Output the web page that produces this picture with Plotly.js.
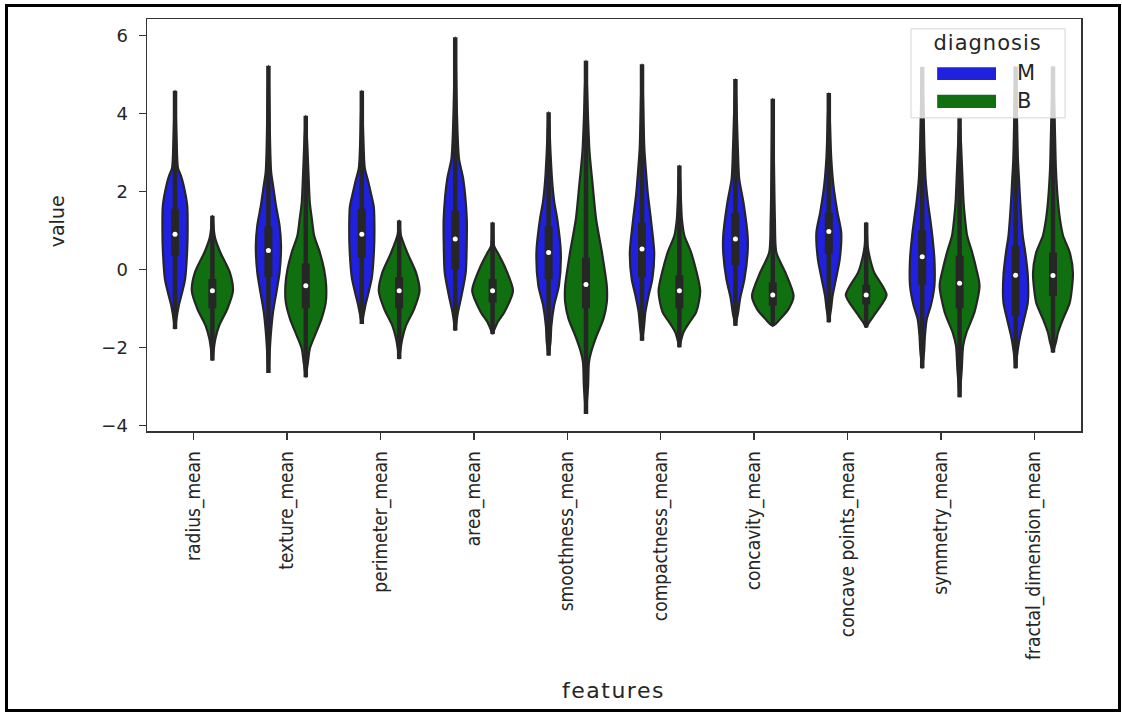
<!DOCTYPE html>
<html>
<head>
<meta charset="utf-8">
<script src="https://cdn.plot.ly/plotly-3.0.1.min.js"></script>
<style>
  html, body { margin: 0; padding: 0; background: #fff; }
  #wrap { position: relative; width: 1122px; height: 712px; }
  #chart { position: absolute; left: 0; top: 0; width: 1122px; height: 712px; }
  #frame { position: absolute; left: 5px; top: 4px; width: 1110px; height: 702px;
           border: 3px solid #000; pointer-events: none; }
  .annotation[data-index="0"] text { letter-spacing: 1px; }
  .annotation[data-index="4"] text { letter-spacing: 1.5px; }
</style>
</head>
<body>
<div id="wrap"><div id="chart"></div><div id="frame"></div></div>
<script>
// ---------------- data ----------------
const features = ["radius_mean", "texture_mean", "perimeter_mean", "area_mean", "smoothness_mean",
                  "compactness_mean", "concavity_mean", "concave points_mean", "symmetry_mean",
                  "fractal_dimension_mean"];
const groups = ["M", "B"];

// inner box statistics (standardised values)
const M_median = [0.90, 0.48, 0.90, 0.78, 0.43, 0.52, 0.78, 0.97, 0.32, -0.15];
const M_q1     = [0.35, -0.20, 0.30, 0.00, -0.25, -0.20, 0.10, 0.40, -0.40, -1.20];
const M_q3     = [1.55, 1.10, 1.55, 1.50, 1.10, 1.20, 1.45, 1.45, 1.00, 0.60];
const B_median = [-0.55, -0.42, -0.55, -0.55, -0.39, -0.55, -0.66, -0.66, -0.36, -0.16];
const B_q1     = [-1.00, -1.00, -1.00, -0.85, -1.00, -1.00, -0.93, -0.90, -1.00, -0.68];
const B_q3     = [-0.25, 0.15, -0.20, -0.25, 0.30, -0.15, -0.33, -0.40, 0.35, 0.43];

// kernel-density profiles: value levels (top to bottom) and relative density at each level
const M_levels = [
  [4.58, 3.4, 2.6, 2.4, 2.15, 1.63, 1.0, 0.5, -0.25, -0.59, -0.93, -1.2, -1.53],
  [5.22, 3.0, 2.49, 2.15, 1.63, 1.12, 0.6, -0.08, -0.59, -1.1, -1.7, -2.13, -2.66],
  [4.58, 3.4, 2.6, 2.3, 2.0, 1.6, 1.0, 0.5, -0.2, -0.55, -0.9, -1.15, -1.40],
  [5.95, 4.5, 3.5, 2.83, 2.32, 1.29, 0.78, -0.08, -0.68, -1.1, -1.57],
  [4.03, 3.0, 2.32, 1.72, 1.29, 0.43, -0.42, -0.93, -1.45, -1.87, -2.21],
  [5.26, 3.1, 2.57, 1.97, 1.29, 0.43, -0.25, -0.68, -1.1, -1.5, -1.83],
  [4.88, 3.2, 2.32, 1.72, 0.86, 0.43, -0.25, -0.76, -1.1, -1.45],
  [4.52, 2.9, 2.15, 1.46, 0.95, 0.26, -0.25, -0.68, -1.0, -1.36],
  [5.19, 3.0, 2.32, 1.72, 1.29, 0.86, 0.26, -0.42, -0.93, -1.27, -1.7, -2.1, -2.54],
  [5.2, 2.83, 2.32, 1.72, 0.86, 0.43, -0.16, -0.85, -1.27, -1.7, -2.04, -2.54]
];
const M_density = [
  [0, .07, .14, .28, .41, .58, .60, .58, .48, .34, .18, .09, 0],
  [0, .09, .13, .22, .36, .53, .60, .53, .38, .22, .11, .06, 0],
  [0, .07, .14, .28, .41, .57, .60, .58, .48, .34, .18, .09, 0],
  [0, .06, .11, .18, .38, .55, .55, .50, .30, .13, 0],
  [0, .09, .16, .27, .41, .58, .49, .26, .13, .09, 0],
  [0, .11, .18, .27, .42, .58, .49, .31, .16, .09, 0],
  [0, .11, .18, .38, .58, .58, .43, .22, .13, 0],
  [0, .11, .22, .41, .59, .52, .34, .18, .11, 0],
  [0, .11, .16, .27, .38, .48, .58, .58, .41, .22, .13, .09, 0],
  [0, .11, .16, .22, .34, .46, .58, .58, .41, .22, .11, 0]
];
const B_levels = [
  [1.37, 1.0, 0.78, 0.43, -0.08, -0.55, -1.02, -1.45, -1.79, -2.34],
  [3.94, 2.57, 1.72, 1.29, 0.86, 0.43, 0.0, -0.42, -0.85, -1.27, -1.7, -2.04, -2.39, -2.77],
  [1.25, 0.9, 0.43, -0.08, -0.55, -1.02, -1.45, -1.8, -2.30],
  [1.2, 0.6, 0.43, 0.09, -0.55, -1.1, -1.36, -1.66],
  [5.35, 3.85, 3.0, 2.15, 1.29, 0.43, -0.42, -0.85, -1.27, -1.7, -2.13, -2.39, -3.0, -3.71],
  [2.66, 1.29, 0.86, 0.43, -0.55, -1.1, -1.36, -1.62, -2.0],
  [4.37, 1.29, 0.43, -0.08, -0.68, -1.02, -1.27, -1.40, -1.45],
  [1.2, 0.6, 0.26, -0.08, -0.66, -1.1, -1.36, -1.49],
  [3.9, 2.57, 1.72, 1.29, 0.86, 0.43, 0.0, -0.42, -1.1, -1.62, -1.96, -2.6, -3.28],
  [5.2, 3.4, 2.57, 1.72, 1.29, 0.86, 0.43, -0.1, -0.85, -1.27, -1.62, -1.87, -2.13]
];
const B_density = [
  [0, .07, .14, .38, .83, .98, .71, .32, .14, 0],
  [0, .12, .19, .29, .40, .67, .87, .97, .95, .75, .43, .19, .10, 0],
  [0, .07, .38, .80, .97, .71, .32, .14, 0],
  [0, .07, .24, .56, .97, .56, .24, 0],
  [0, .10, .17, .32, .48, .76, .99, .99, .83, .51, .24, .14, .10, 0],
  [0, .12, .24, .56, .99, .80, .48, .19, 0],
  [0, .10, .17, .60, .99, .75, .36, .14, 0],
  [0, .07, .19, .38, .97, .48, .14, 0],
  [0, .12, .19, .26, .36, .60, .80, .95, .71, .33, .17, .10, 0],
  [0, .10, .14, .24, .33, .48, .80, .95, .80, .48, .24, .14, 0]
];

// ---------------- styling ----------------
const groupColors = ["rgb(32,32,223)", "rgb(16,112,16)"];
const edge = "#262626";
const DODGE = 0.2;          // hue offset inside a category
const WIDTH_SCALE = 0.225;  // half-width (category units) for density 1

const stats = {
  M: {med: M_median, q1: M_q1, q3: M_q3, lev: M_levels, den: M_density},
  B: {med: B_median, q1: B_q1, q3: B_q3, lev: B_levels, den: B_density}
};

const traces = [];
const inner = [];
groups.forEach((g, gi) => {
  const s = stats[g];
  features.forEach((f, i) => {
    const c = i + (gi === 0 ? -DODGE : DODGE);
    const lev = s.lev[i], den = s.den[i];
    const xs = [], ys = [];
    for (let k = 0; k < lev.length; k++) { xs.push(c + den[k] * WIDTH_SCALE); ys.push(lev[k]); }
    for (let k = lev.length - 1; k >= 0; k--) { xs.push(c - den[k] * WIDTH_SCALE); ys.push(lev[k]); }
    traces.push({
      type: "scatter", mode: "lines", x: xs, y: ys, fill: "toself",
      fillcolor: groupColors[gi],
      line: {color: edge, width: 2.2, shape: "spline", smoothing: 0.7},
      hoverinfo: "skip", showlegend: false
    });
    inner.push({
      type: "scatter", mode: "lines", x: [c, c], y: [lev[lev.length - 1], lev[0]],
      line: {color: edge, width: 4.5}, hoverinfo: "skip", showlegend: false
    });
    inner.push({
      type: "scatter", mode: "lines", x: [c, c], y: [s.q1[i], s.q3[i]],
      line: {color: edge, width: 8}, hoverinfo: "skip", showlegend: false
    });
    inner.push({
      type: "scatter", mode: "markers", x: [c], y: [s.med[i]],
      marker: {color: "white", size: 5, line: {width: 0}},
      hoverinfo: "skip", showlegend: false
    });
  });
});

// ---------------- manual legend ----------------
const legendShapes = [
  {type: "rect", xref: "paper", yref: "paper", x0: 0.818, x1: 0.983, y0: 0.760, y1: 0.976,
   fillcolor: "rgba(255,255,255,0.8)", line: {color: "#d4d4d4", width: 1}, layer: "above"},
  {type: "rect", xref: "paper", yref: "paper", x0: 0.846, x1: 0.909, y0: 0.852, y1: 0.883,
   fillcolor: groupColors[0], line: {width: 0}, layer: "above"},
  {type: "rect", xref: "paper", yref: "paper", x0: 0.846, x1: 0.909, y0: 0.784, y1: 0.816,
   fillcolor: groupColors[1], line: {width: 0}, layer: "above"}
];
const txtFont = {family: "DejaVu Sans", color: "#262626"};
const annotations = [
  {xref: "paper", yref: "paper", x: 0.900, y: 0.942, text: "diagnosis", showarrow: false,
   xanchor: "center", yanchor: "middle", font: Object.assign({size: 21}, txtFont)},
  {xref: "paper", yref: "paper", x: 0.929, y: 0.868, text: groups[0], showarrow: false,
   xanchor: "left", yanchor: "middle", font: Object.assign({size: 21}, txtFont)},
  {xref: "paper", yref: "paper", x: 0.929, y: 0.800, text: groups[1], showarrow: false,
   xanchor: "left", yanchor: "middle", font: Object.assign({size: 21}, txtFont)},
  {xref: "paper", yref: "paper", x: -0.097, y: 0.51, text: "value", showarrow: false,
   textangle: -90, xanchor: "center", yanchor: "middle", font: Object.assign({size: 19}, txtFont)},
  {xref: "paper", yref: "paper", x: 0.499, y: -0.629, text: "features", showarrow: false,
   xanchor: "center", yanchor: "middle", font: Object.assign({size: 22}, txtFont)}
];

const layout = {
  width: 1122, height: 712,
  margin: {l: 147, r: 41, t: 19, b: 281},
  paper_bgcolor: "#fff", plot_bgcolor: "#fff",
  showlegend: false,
  xaxis: {
    range: [-0.5, 9.5], tickmode: "array",
    tickvals: features.map((_, i) => i), ticktext: features,
    tickangle: -90, ticks: "outside", ticklen: 7, tickwidth: 1.5, tickcolor: "#333",
    showline: true, linecolor: "#333", linewidth: 1.5, mirror: true,
    showgrid: false, zeroline: false, ticklabelstandoff: 4,
    tickfont: {family: "DejaVu Sans Condensed, DejaVu Sans", size: 19, color: "#262626"}
  },
  yaxis: {
    range: [-4.146, 6.418], tickmode: "array", tickvals: [-4, -2, 0, 2, 4, 6],
    ticks: "outside", ticklen: 7, tickwidth: 1.5, tickcolor: "#333",
    showline: true, linecolor: "#333", linewidth: 1.5, mirror: true,
    showgrid: false, zeroline: false, ticklabelstandoff: 7,
    tickfont: {family: "DejaVu Sans", size: 18, color: "#262626"}
  },
  shapes: legendShapes,
  annotations: annotations
};

Plotly.newPlot("chart", traces.concat(inner), layout, {displayModeBar: false, staticPlot: true});
</script>
</body>
</html>
